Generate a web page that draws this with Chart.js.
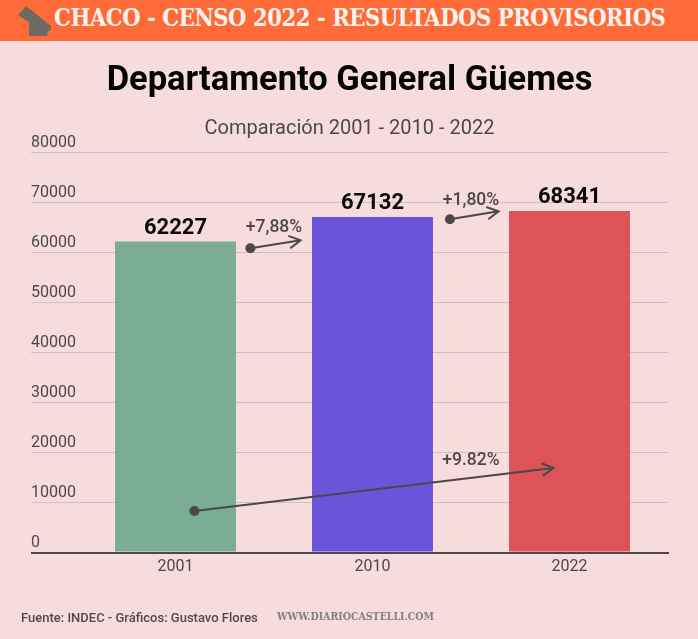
<!DOCTYPE html>
<html lang="es">
<head>
<meta charset="utf-8">
<title>Departamento General Güemes</title>
<script src="https://cdn.jsdelivr.net/npm/chart.js@4"></script>
<style>
  html, body { margin: 0; padding: 0; background: #f7dcdd; }
  #page { position: relative; width: 698px; height: 639px; overflow: hidden; }
  #banner {
    position: absolute; left: 0; top: 0; width: 698px; height: 41px; background: #ff6b38;
    color: #fdf3ec; font: bold 23.5px "DejaVu Serif Condensed", "DejaVu Serif", serif; line-height: 37px; white-space: nowrap;
  }
  #banner span { position: absolute; left: 54px; top: 0; letter-spacing: -0.45px; }
  #banner svg { position: absolute; left: 0; top: 0; }
  canvas { position: absolute; left: 0; top: 0; }
  .foot { position: absolute; top: 610px; white-space: nowrap; }
  #source { left: 21px; font: 500 13px Roboto, sans-serif; color: #4f4a4a; }
  #site { left: 277px; top: 610px; font: bold 10.5px "DejaVu Serif Condensed", "DejaVu Serif", serif; color: #857f85; }
</style>
</head>
<body>
<div id="page">
  <div id="banner">
    <svg width="54" height="41"><polygon points="18,15 26,6 51,26 51,30 48,31 47,36 29,36 29,22" fill="#6b6a63"/></svg>
    <span>CHACO - CENSO 2022 - RESULTADOS PROVISORIOS</span>
  </div>
  <canvas id="censusChart" width="698" height="639"></canvas>
  <div class="foot" id="source">Fuente: INDEC - Gráficos: Gustavo Flores</div>
  <div class="foot" id="site">WWW.DIARIOCASTELLI.COM</div>
</div>
<script>
const years = ["2001", "2010", "2022"];
const population = [62227, 67132, 68341];
const barColors = ["#7aad94", "#6b54d9", "#dc5458"];

// arrows in chart units: x is the category index, y the axis value
const arrowLabels = ["+7,88%", "+1,80%", "+9.82%"];
const arrowFromX = [0.38, 1.393, 0.096];
const arrowFromY = [60900, 66700, 8300];
const arrowToX = [0.635, 1.64, 1.919];
const arrowToY = [62500, 68300, 16900];
const arrowLabelX = [0.5, 1.5, 1.5];
const arrowLabelY = [65000, 70500, 18300];

const inkColor = "#4d4848";

const valueLabels = {
  id: "valueLabels",
  afterDatasetsDraw(chart) {
    const ctx = chart.ctx;
    const bars = chart.getDatasetMeta(0).data;
    ctx.save();
    ctx.font = "bold 22px Roboto";
    ctx.fillStyle = "#0b0b0b";
    ctx.textAlign = "center";
    ctx.textBaseline = "alphabetic";
    bars.forEach((bar, i) => ctx.fillText(population[i], bar.x, bar.y - 8));
    ctx.restore();
  },
};

const arrows = {
  id: "arrows",
  afterDatasetsDraw(chart) {
    const ctx = chart.ctx;
    const xs = chart.scales.x;
    const ys = chart.scales.y;
    ctx.save();
    ctx.strokeStyle = inkColor;
    ctx.fillStyle = inkColor;
    ctx.lineWidth = 2;
    arrowLabels.forEach((label, i) => {
      const x1 = xs.getPixelForValue(arrowFromX[i]);
      const y1 = ys.getPixelForValue(arrowFromY[i]);
      const x2 = xs.getPixelForValue(arrowToX[i]);
      const y2 = ys.getPixelForValue(arrowToY[i]);
      const a = Math.atan2(y2 - y1, x2 - x1);
      ctx.beginPath();
      ctx.moveTo(x1, y1);
      ctx.lineTo(x2, y2);
      ctx.moveTo(x2 - 13 * Math.cos(a - 0.5), y2 - 13 * Math.sin(a - 0.5));
      ctx.lineTo(x2, y2);
      ctx.lineTo(x2 - 13 * Math.cos(a + 0.5), y2 - 13 * Math.sin(a + 0.5));
      ctx.stroke();
      ctx.beginPath();
      ctx.arc(x1, y1, 5, 0, Math.PI * 2);
      ctx.fill();
      ctx.font = "500 17.5px Roboto";
      ctx.textAlign = "center";
      ctx.textBaseline = "middle";
      ctx.fillText(label, xs.getPixelForValue(arrowLabelX[i]), ys.getPixelForValue(arrowLabelY[i]));
    });
    ctx.restore();
  },
};

new Chart("censusChart", {
  type: "bar",
  data: {
    labels: years,
    datasets: [
      {
        data: population,
        backgroundColor: barColors,
        categoryPercentage: 1,
        barPercentage: 0.614,
      },
    ],
  },
  options: {
    responsive: false,
    animation: false,
    layout: { padding: { left: 31, right: 30, top: 0, bottom: 0 } },
    plugins: {
      legend: { display: false },
      tooltip: { enabled: false },
      title: {
        display: true,
        text: "Departamento General Güemes",
        color: "#050505",
        font: { family: "Roboto", size: 34.5, weight: "bold" },
        padding: { top: 61, bottom: 0 },
      },
      subtitle: {
        display: true,
        text: "Comparación 2001 - 2010 - 2022",
        color: inkColor,
        font: { family: "Roboto", size: 20, weight: "normal" },
        padding: { top: 15, bottom: 11.4 },
      },
    },
    scales: {
      x: {
        grid: { display: false, drawTicks: false },
        border: { display: true, color: inkColor, width: 2, z: 1 },
        ticks: {
          color: inkColor,
          font: { family: "Roboto", size: 16 },
          padding: 5,
        },
        afterFit(scale) {
          scale.height = 86.5;
        },
      },
      y: {
        min: 0,
        max: 80000,
        border: { display: false },
        grid: {
          tickLength: 46,
          color: (c) => (c.tick.value === 0 ? inkColor : "#cdbfbf"),
          tickColor: (c) => (c.tick.value === 0 ? inkColor : "#cdbfbf"),
          lineWidth: (c) => (c.tick.value === 0 ? 2 : 1),
          tickWidth: (c) => (c.tick.value === 0 ? 2 : 1),
        },
        ticks: {
          stepSize: 10000,
          color: inkColor,
          font: { family: "Roboto", size: 16 },
          crossAlign: "far",
          labelOffset: -10,
          callback: (v) => String(v),
        },
        afterFit(scale) {
          scale.width = 46;
          scale.paddingTop = 0;
          scale.paddingBottom = 0;
        },
      },
    },
  },
  plugins: [valueLabels, arrows],
});
</script>
</body>
</html>
